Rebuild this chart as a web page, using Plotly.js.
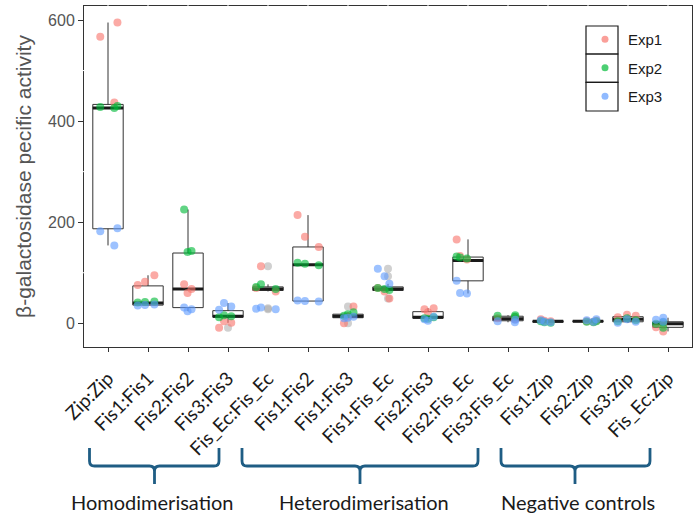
<!DOCTYPE html>
<html><head><meta charset="utf-8">
<script src="https://cdn.plot.ly/plotly-3.0.1.min.js"></script>
<style>html,body{margin:0;padding:0;background:#fff}#chart{width:700px;height:520px}</style>
</head><body><div id="chart"></div>
<script>
// ---- data ----
const categories = ['Zip:Zip','Fis1:Fis1','Fis2:Fis2','Fis3:Fis3','Fis_Ec:Fis_Ec','Fis1:Fis2','Fis1:Fis3','Fis1:Fis_Ec','Fis2:Fis3','Fis2:Fis_Ec','Fis3:Fis_Ec','Fis1:Zip','Fis2:Zip','Fis3:Zip','Fis_Ec:Zip'];
const exp1 = [[595,567,437],[95,82,76],[77,68,60],[4,1,-9],[113,70,63],[214,171,151],[33,14,0],[70,63,49],[30,28,22],[166,133,126],[12,10,8],[8,5,4],[5,4,3],[17,15,12],[-3,-8,-16]];
const exp2 = [[430,428,426],[43,42,41],[225,143,141],[16,14,12],[77,72,68],[120,118,115],[22,18,15],[70,68,66],[12,10,9],[132,130,128],[16,15,13],[4,2,1],[4,3,2],[10,6,4],[2,-1,-9]];
const exp3 = [[188,182,154],[37,36,35],[31,28,24],[40,33,27],[31,29,28],[45,44,43],[13,11,10],[108,93,78],[13,8,5],[84,60,59],[7,4,2],[6,3,2],[8,6,3],[8,3,1],[11,7,3]];
const q1 = [187,36,31,12,65,44,11,65,10,84,5,2,3,3,-8];
const median = [426,40,68,14,68,116,14,68,12,124,9,4,4,8,-1];
const q3 = [433,74,139,25,72,151,18,72,23,131,14,5,5,13,3];
const lowerWhisker = [154,35,24,1,63,43,10,63,5,59,2,1,2,1,-16];
const upperWhisker = [595,95,225,40,77,214,22,78,30,166,16,8,8,17,11];
const outliers = [[],[],[],[-9],[113,30,28],[],[33,0],[108,93,49],[],[],[],[],[],[],[]];
const expNames = ['Exp1','Exp2','Exp3'];
const expColors = ['#F8766D','#00BA38','#619CFF'];
const yTicks = [0,200,400,600];
const groups = ['Homodimerisation','Heterodimerisation','Negative controls'];

// ---- geometry helpers (pixel -> paper) ----
const W = 700, H = 520, M = {l:84, r:8, t:6, b:173};
const PW = W - M.l - M.r, PH = H - M.t - M.b;
const px = x => (x - M.l) / PW;
const py = y => (H - M.b - y) / PH;

const BW = 0.76;
const traces = [];

// main boxes
traces.push({type:'box', x:categories, q1:q1, median:median, q3:q3,
  lowerfence:lowerWhisker, upperfence:upperWhisker, boxpoints:false,
  width:BW, whiskerwidth:0, fillcolor:'#ffffff', line:{color:'#333333', width:1},
  showlegend:false, hoverinfo:'skip'});
// outliers (grey, at box centre)
(function(){
  const x=[], y=[];
  categories.forEach((c,i)=>outliers[i].forEach(v=>{x.push(c); y.push(v);}));
  traces.push({type:'box', x:x, y:y, boxpoints:'all', jitter:0, pointpos:0, width:BW,
    fillcolor:'rgba(0,0,0,0)', line:{color:'rgba(0,0,0,0)', width:0},
    marker:{color:'rgba(170,170,170,0.55)', size:8}, showlegend:false, hoveron:'points'});
})();
// thick medians
traces.push({type:'box', x:categories, q1:median, median:median, q3:median,
  lowerfence:median, upperfence:median, boxpoints:false,
  width:BW, whiskerwidth:0, fillcolor:'rgba(0,0,0,0)', line:{color:'#1a1a1a', width:3},
  showlegend:false, hoverinfo:'skip'});
// jittered points per experiment
[exp1, exp2, exp3].forEach((vals, k)=>{
  const x=[], y=[];
  categories.forEach((c,i)=>vals[i].forEach(v=>{x.push(c); y.push(v);}));
  traces.push({type:'box', x:x, y:y, name:expNames[k], boxpoints:'all', jitter:0.8, pointpos:0, width:BW,
    fillcolor:'rgba(0,0,0,0)', line:{color:'rgba(0,0,0,0)', width:0},
    marker:{color:expColors[k], size:8, opacity:0.62}, showlegend:false, hoveron:'points'});
});
// legend entries
expNames.forEach((n,k)=>{
  traces.push({type:'scatter', mode:'markers', x:[null], y:[null], name:n, legendgroup:n,
    marker:{color:expColors[k], size:7, opacity:0.7}, showlegend:true});
});

// ---- shapes ----
const shapes = [];
// white breaks in the frame (grid positions)
categories.forEach((c,i)=>shapes.push({type:'line', xref:'x', yref:'paper', x0:i, x1:i, y0:0.99, y1:1.01,
  line:{color:'#ffffff', width:1}, layer:'above'}));
[100,300,500].forEach(v=>shapes.push({type:'line', xref:'paper', yref:'y', x0:-0.006, x1:0.006, y0:v, y1:v,
  line:{color:'#ffffff', width:1}, layer:'above'}));
// legend key boxes
[[26,54],[54,82.3],[82.3,111]].forEach(r=>shapes.push({type:'rect', xref:'paper', yref:'paper',
  x0:px(586), x1:px(618), y0:py(r[1]), y1:py(r[0]), line:{color:'#1a1a1a', width:1.2}, fillcolor:'rgba(0,0,0,0)', layer:'above'}));
// braces
function brace(x0, x1, xc, yt, yl, yb){
  const r = 5;
  const P = (x,y)=>px(x).toFixed(5)+','+py(y).toFixed(5);
  return 'M'+P(x0,yt)+' L'+P(x0,yl-r)+' Q'+P(x0,yl)+' '+P(x0+r,yl)+' L'+P(xc-r,yl)+' Q'+P(xc,yl)+' '+P(xc,yl+r)+
    ' L'+P(xc,yb)+' M'+P(xc,yl+r)+' Q'+P(xc,yl)+' '+P(xc+r,yl)+' L'+P(x1-r,yl)+' Q'+P(x1,yl)+' '+P(x1,yl-r)+' L'+P(x1,yt);
}
const braceDefs = [[89.5,219,154.5],[242,478,360],[501,650,575]];
braceDefs.forEach(b=>shapes.push({type:'path', xref:'paper', yref:'paper', path:brace(b[0],b[1],b[2],448,466,484),
  line:{color:'#1f5d84', width:2.8}, layer:'above'}));

// ---- annotations ----
const labelCenters = [151.7, 364, 577.7];
const annotations = groups.map((g,i)=>({text:g, xref:'paper', yref:'paper', x:px(labelCenters[i]), y:py(502),
  xanchor:'center', yanchor:'middle', showarrow:false, font:{family:'Lato, sans-serif', size:20, color:'#1a1a1a'}}));

const layout = {
  width:W, height:H, margin:M, paper_bgcolor:'#ffffff', plot_bgcolor:'#ffffff',
  boxmode:'overlay', showlegend:true, hovermode:'closest',
  legend:{x:px(582), y:py(23), xanchor:'left', yanchor:'top', bgcolor:'rgba(0,0,0,0)', borderwidth:0, itemwidth:36,
    font:{family:'Liberation Sans, Arial, sans-serif', size:15, color:'#1a1a1a'}, traceorder:'grouped', tracegroupgap:6},
  xaxis:{type:'category', categoryorder:'array', categoryarray:categories, range:[-0.6,14.6],
    showline:true, mirror:true, linecolor:'#333333', linewidth:1, ticks:'outside', ticklen:4, tickcolor:'#333333',
    tickangle:-45, ticklabelstandoff:8, tickfont:{family:'Lato, sans-serif', size:19, color:'#1a1a1a'}, showgrid:false, zeroline:false},
  yaxis:{range:[-46.9,627.7], tickvals:yTicks, showline:true, mirror:true, linecolor:'#333333', linewidth:1,
    ticks:'outside', ticklen:5, tickcolor:'#333333', showgrid:false, zeroline:false,
    tickfont:{family:'Liberation Sans, Arial, sans-serif', size:16, color:'#555555'},
    title:{text:'β-galactosidase pecific activity', standoff:10, font:{family:'Liberation Sans, Arial, sans-serif', size:21, color:'#555555'}}},
  shapes:shapes, annotations:annotations
};
Plotly.newPlot('chart', traces, layout, {displayModeBar:false, staticPlot:true});
</script></body></html>
